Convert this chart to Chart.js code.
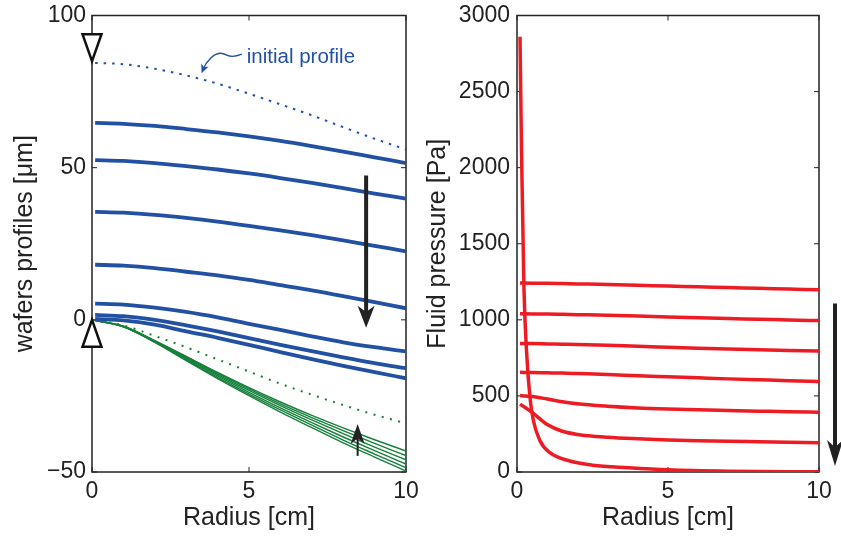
<!DOCTYPE html>
<html>
<head>
<meta charset="utf-8">
<script src="https://cdn.jsdelivr.net/npm/chart.js@4.4.1/dist/chart.umd.min.js"></script>
<style>
  body { margin: 0; background: #fff; }
  #wrap { position: relative; width: 841px; height: 536px; }
  canvas { position: absolute; top: 0; }
  #profiles { left: 0; }
  #pressure { left: 420px; }
</style>
</head>
<body>
<div id="wrap">
  <canvas id="profiles" width="420" height="536"></canvas>
  <canvas id="pressure" width="421" height="536"></canvas>
</div>
<script>
// ---- wafer profiles [um] vs radius [cm] ----
const radiusTop = [0.1, 1, 2, 3, 4, 5, 6, 7, 8, 9, 10];
const radiusBottom = [0, 1, 2, 3, 4, 5, 6, 7, 8, 9, 10];

const initialProfile = [84.4, 84.0, 82.5, 80.3, 77.6, 74.3, 70.8, 67.2, 63.3, 59.5, 56.0];

// upper wafer, successive times
const upper1 = [64.7, 64.4, 63.7, 62.7, 61.6, 60.3, 58.8, 57.1, 55.3, 53.4, 51.5];
const upper2 = [52.5, 52.2, 51.5, 50.5, 49.4, 48.1, 46.6, 45.0, 43.3, 41.5, 39.8];
const upper3 = [35.5, 35.2, 34.5, 33.5, 32.3, 30.9, 29.4, 27.8, 26.1, 24.3, 22.5];
const upper4 = [18.1, 17.8, 17.0, 15.8, 14.6, 13.1, 11.4, 9.7, 7.8, 5.8, 3.8];
const upper5 = [5.3, 5.0, 4.0, 2.6, 0.8, -1.3, -3.3, -5.4, -7.4, -9.0, -10.4];
const upper6 = [1.6, 1.2, 0.0, -1.8, -3.8, -6.0, -8.2, -10.3, -12.3, -14.2, -15.9];
const upper7 = [0.3, -0.2, -1.6, -3.8, -5.9, -8.2, -10.6, -12.9, -15.1, -17.2, -19.2];

// lower wafer
const lowerInitial = [0, -1.8, -5.3, -9.0, -13.0, -17.0, -21.0, -24.6, -28.0, -31.2, -34.0];
const lower1 = [0, -2.1, -6.8, -12.0, -17.3, -22.3, -27.0, -31.4, -35.5, -39.4, -43.1];
const lower2 = [0, -2.1, -6.9, -12.2, -17.6, -22.7, -27.6, -32.1, -36.4, -40.6, -44.6];
const lower3 = [0, -2.2, -7.0, -12.5, -18.0, -23.2, -28.2, -32.9, -37.4, -41.8, -46.0];
const lower4 = [0, -2.2, -7.1, -12.8, -18.4, -23.8, -28.9, -33.8, -38.5, -43.0, -47.4];
const lower5 = [0, -2.3, -7.3, -13.1, -18.9, -24.4, -29.6, -34.6, -39.5, -44.1, -48.6];
const lower6 = [0, -2.3, -7.4, -13.4, -19.3, -24.9, -30.3, -35.4, -40.4, -45.1, -49.7];

// ---- fluid pressure [Pa] vs radius [cm] ----
const radiusP = [0.1, 0.5, 1, 1.5, 2, 3, 4, 5, 6, 7, 8, 9, 10];
const pressure1 = [1242, 1241, 1240, 1238, 1236, 1232, 1227, 1222, 1217, 1212, 1207, 1202, 1197];
const pressure2 = [1040, 1039, 1038, 1036, 1034, 1030, 1025, 1018, 1013, 1008, 1004, 999, 995];
const pressure3 = [845, 844, 842, 840, 838, 833, 826, 820, 814, 808, 803, 799, 795];
const pressure4 = [655, 654, 652, 650, 647, 641, 633, 626, 619, 612, 606, 600, 595];
const pressure5 = [502, 496, 480, 462, 448, 432, 421, 414, 409, 404, 400, 396, 393];
const pressure6 = [446, 392, 312, 268, 247, 228, 218, 211, 206, 202, 199, 196, 193];
const radiusDrain = [0.1, 0.15, 0.23, 0.32, 0.43, 0.54, 0.76, 1.09, 1.75, 2.5, 3.7, 5, 7, 10];
const pressureDrain = [2860, 2100, 1210, 780, 490, 340, 205, 127, 72, 45, 28, 14, 5, 1];

const xTicks = [0, 5, 10];
const profileTicks = [-50, 0, 50, 100];
const pressureTicks = [0, 500, 1000, 1500, 2000, 2500, 3000];

const BLUE = '#2251a3';
const GREEN = '#16803c';
const RED = '#ed1c24';
const INK = '#222';
const FONT = '"Liberation Sans", Arial, Helvetica, sans-serif';

Chart.defaults.font.family = FONT;
Chart.defaults.color = INK;

function pts(xs, ys) {
  return ys.map((v, i) => ({ x: xs[i], y: v }));
}

function curve(xs, ys, color, width, dash) {
  return {
    data: pts(xs, ys),
    borderColor: color,
    borderWidth: width,
    borderDash: dash || [],
    pointRadius: 0,
    fill: false,
    cubicInterpolationMode: 'monotone'
  };
}

// box round the plot with inward tick marks on all four sides
const frame = {
  id: 'frame',
  beforeDatasetsDraw(chart) {
    const { ctx, chartArea: a, scales: { x, y } } = chart;
    ctx.save();
    ctx.strokeStyle = INK;
    ctx.lineWidth = 1;
    ctx.beginPath();
    x.ticks.forEach(t => {
      const px = x.getPixelForValue(t.value);
      ctx.moveTo(px, a.bottom); ctx.lineTo(px, a.bottom - 5);
      ctx.moveTo(px, a.top); ctx.lineTo(px, a.top + 5);
    });
    y.ticks.forEach(t => {
      const py = y.getPixelForValue(t.value);
      ctx.moveTo(a.left, py); ctx.lineTo(a.left + 5, py);
      ctx.moveTo(a.right, py); ctx.lineTo(a.right - 5, py);
    });
    ctx.stroke();
    ctx.lineWidth = 1.5;
    ctx.strokeRect(a.left, a.top, a.right - a.left, a.bottom - a.top);
    ctx.restore();
  }
};

// straight arrows given in data coordinates
const arrows = {
  id: 'arrows',
  afterDatasetsDraw(chart, args, opts) {
    const { ctx, scales: { x, y } } = chart;
    (opts.items || []).forEach(a => {
      const x0 = x.getPixelForValue(a.from[0]), y0 = y.getPixelForValue(a.from[1]);
      const x1 = x.getPixelForValue(a.to[0]), y1 = y.getPixelForValue(a.to[1]);
      const ang = Math.atan2(y1 - y0, x1 - x0);
      ctx.save();
      ctx.strokeStyle = ctx.fillStyle = INK;
      ctx.lineWidth = a.width;
      ctx.beginPath();
      ctx.moveTo(x0, y0);
      ctx.lineTo(x1 - Math.cos(ang) * a.head * 0.7, y1 - Math.sin(ang) * a.head * 0.7);
      ctx.stroke();
      ctx.translate(x1, y1);
      ctx.rotate(ang);
      ctx.beginPath();
      ctx.moveTo(0, 0);
      ctx.lineTo(-a.head, -a.half);
      ctx.lineTo(-a.head * 0.72, 0);
      ctx.lineTo(-a.head, a.half);
      ctx.closePath();
      ctx.fill();
      ctx.restore();
    });
  }
};

// open triangles on the axis marking the wafer start points
const pointers = {
  id: 'pointers',
  afterDraw(chart, args, opts) {
    const { ctx, scales: { x, y } } = chart;
    (opts.items || []).forEach(m => {
      const px = x.getPixelForValue(m.at[0]), py = y.getPixelForValue(m.at[1]);
      const s = m.dir === 'down' ? -1 : 1;
      ctx.save();
      ctx.beginPath();
      ctx.moveTo(px, py);
      ctx.lineTo(px - 9.5, py + s * 27);
      ctx.lineTo(px + 9.5, py + s * 27);
      ctx.closePath();
      ctx.fillStyle = '#fff';
      ctx.fill();
      ctx.lineJoin = 'miter';
      ctx.lineWidth = 2.5;
      ctx.strokeStyle = '#111';
      ctx.stroke();
      ctx.restore();
    });
  }
};

// "initial profile" label with a wavy leader
const profileNote = {
  id: 'profileNote',
  afterDatasetsDraw(chart, args, opts) {
    if (!opts.label) return;
    const { ctx, scales: { x, y } } = chart;
    const tx = x.getPixelForValue(opts.text[0]), ty = y.getPixelForValue(opts.text[1]);
    const hx = x.getPixelForValue(opts.tip[0]), hy = y.getPixelForValue(opts.tip[1]);
    ctx.save();
    ctx.fillStyle = ctx.strokeStyle = BLUE;
    ctx.font = '20.5px ' + FONT;
    ctx.textBaseline = 'alphabetic';
    ctx.fillText(opts.label, tx, ty);
    const sx = tx - 5, sy = ty - 8.5;
    ctx.lineWidth = 1.4;
    ctx.beginPath();
    ctx.moveTo(sx, sy);
    ctx.bezierCurveTo(sx - 6, sy + 2.5, sx - 11, sy + 3, sx - 15, sy + 1);
    ctx.bezierCurveTo(sx - 19, sy - 1, sx - 24, sy - 3, hx + 9, hy - 15);
    ctx.quadraticCurveTo(hx + 4, hy - 10, hx + 2, hy - 5);
    ctx.stroke();
    const ang = Math.atan2(8.3, -3.3);
    ctx.translate(hx, hy);
    ctx.rotate(ang);
    ctx.beginPath();
    ctx.moveTo(0, 0);
    ctx.lineTo(-9, -4);
    ctx.lineTo(-6.5, 0);
    ctx.lineTo(-9, 4);
    ctx.closePath();
    ctx.fill();
    ctx.restore();
  }
};

function scales(yMin, yMax, yTicks, yTitle, yTitlePad, yWidth, yPad) {
  return {
    x: {
      type: 'linear', min: 0, max: 10,
      afterFit: s => { s.height = 64; s.paddingLeft = 0; s.paddingRight = 0; },
      afterBuildTicks: s => { s.ticks = xTicks.map(v => ({ value: v })); },
      ticks: { padding: 6, font: { size: 23 }, maxRotation: 0, autoSkip: false },
      grid: { display: false, drawTicks: false },
      border: { display: false },
      title: { display: true, text: 'Radius [cm]', font: { size: 25 }, padding: { top: 0, bottom: 3 } }
    },
    y: {
      type: 'linear', min: yMin, max: yMax,
      afterFit: s => { s.width = yWidth; s.paddingTop = 0; s.paddingBottom = 0; },
      afterBuildTicks: s => { s.ticks = yTicks.map(v => ({ value: v })); },
      ticks: { padding: yPad, font: { size: 23 }, autoSkip: false,
               callback: v => String(v).replace('-', '\u2212') },
      grid: { display: false, drawTicks: false },
      border: { display: false },
      title: { display: true, text: yTitle, font: { size: 25 }, padding: { top: yTitlePad, bottom: 0 } }
    }
  };
}

new Chart(document.getElementById('profiles'), {
  type: 'line',
  data: {
    datasets: [
      curve(radiusTop, initialProfile, BLUE, 2, [2.5, 6]),
      curve(radiusTop, upper1, BLUE, 3.8),
      curve(radiusTop, upper2, BLUE, 3.8),
      curve(radiusTop, upper3, BLUE, 3.8),
      curve(radiusTop, upper4, BLUE, 3.8),
      curve(radiusTop, upper5, BLUE, 3.8),
      curve(radiusTop, upper6, BLUE, 3.8),
      curve(radiusTop, upper7, BLUE, 3.8),
      curve(radiusBottom, lowerInitial, GREEN, 2, [2, 6.5]),
      curve(radiusBottom, lower1, GREEN, 1.4),
      curve(radiusBottom, lower2, GREEN, 1.4),
      curve(radiusBottom, lower3, GREEN, 1.4),
      curve(radiusBottom, lower4, GREEN, 1.4),
      curve(radiusBottom, lower5, GREEN, 1.4),
      curve(radiusBottom, lower6, GREEN, 1.4)
    ]
  },
  options: {
    responsive: false,
    animation: false,
    devicePixelRatio: 1,
    events: [],
    layout: { padding: { top: 15.5, right: 14, left: 0, bottom: 0 } },
    scales: scales(-50, 100, profileTicks, 'wafers profiles [\u03bcm]', 10, 92, 6),
    plugins: {
      legend: { display: false },
      tooltip: { enabled: false },
      arrows: { items: [
        { from: [8.73, 47.4], to: [8.73, -2.6], width: 4, head: 22, half: 8.5 },
        { from: [8.46, -44.7], to: [8.46, -34.2], width: 2, head: 20, half: 7 }
      ] },
      pointers: { items: [
        { at: [0, 85], dir: 'down' },
        { at: [0, 0], dir: 'up' }
      ] },
      profileNote: { label: 'initial profile', text: [4.93, 84.5], tip: [3.49, 81.0] }
    }
  },
  plugins: [frame, arrows, pointers, profileNote]
});

new Chart(document.getElementById('pressure'), {
  type: 'line',
  data: {
    datasets: [
      curve(radiusDrain, pressureDrain, RED, 3.5),
      curve(radiusP, pressure1, RED, 3.5),
      curve(radiusP, pressure2, RED, 3.5),
      curve(radiusP, pressure3, RED, 3.5),
      curve(radiusP, pressure4, RED, 3.5),
      curve(radiusP, pressure5, RED, 3.5),
      curve(radiusP, pressure6, RED, 3.5)
    ]
  },
  options: {
    responsive: false,
    animation: false,
    devicePixelRatio: 1,
    events: [],
    layout: { padding: { top: 15.5, right: 22, left: 0, bottom: 0 } },
    scales: scales(0, 3000, pressureTicks, 'Fluid pressure [Pa]', 3, 97, 7),
    plugins: {
      legend: { display: false },
      tooltip: { enabled: false },
      arrows: { items: [
        { from: [10.53, 1107], to: [10.53, 40], width: 4, head: 26, half: 8 }
      ] }
    }
  },
  plugins: [frame, arrows]
});
</script>
</body>
</html>
